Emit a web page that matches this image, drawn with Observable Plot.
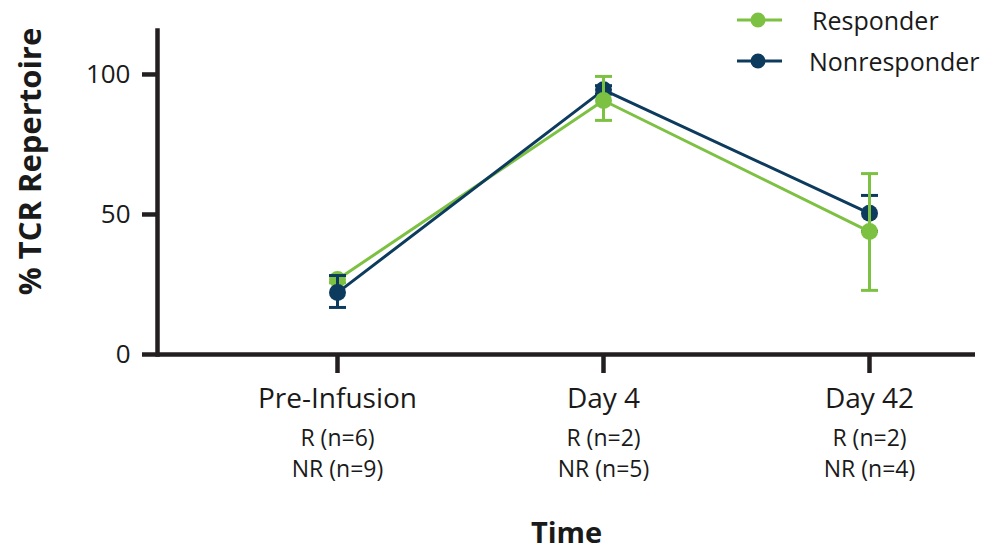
<!DOCTYPE html>
<html><head><meta charset="utf-8">
<script src="https://cdn.jsdelivr.net/npm/d3@7"></script>
<script src="https://cdn.jsdelivr.net/npm/@observablehq/plot@0.6"></script>
<style>
body{margin:0;background:#fff;font-family:"Open Sans",sans-serif;}
#wrap{position:relative;width:984px;height:550px;}
.leg{position:absolute;left:0;top:0;width:984px;height:80px;pointer-events:none;}
.leg-item{position:absolute;display:flex;align-items:center;}
.leg-item span{font-family:"Open Sans",sans-serif;font-size:25px;color:#1a1a1a;line-height:1;}
</style></head><body><div id="wrap"></div>
<script>
const categories = ["Pre-Infusion", "Day 4", "Day 42"];
const groupCounts = ["R (n=6)\nNR (n=9)", "R (n=2)\nNR (n=5)", "R (n=2)\nNR (n=4)"];
const seriesNames = ["Responder", "Nonresponder"];
const seriesColors = ["#7DC143", "#0D3B5E"];
const responderMean = [26.8, 90.7, 43.9];
const responderLow = [25.6, 83.6, 22.9];
const responderHigh = [28.0, 99.3, 64.6];
const nonresponderMean = [22.1, 94.5, 50.4];
const nonresponderLow = [16.8, 93.0, 44.0];
const nonresponderHigh = [28.2, 96.0, 56.8];
const yTicks = [0, 50, 100];
const yMax = 115.7;
// series drawn on top at each time point
const topSeries = ["Nonresponder", "Responder", "Responder"];

const axisColor = "#231F20";
const textColor = "#1a1a1a";

const rows = [];
categories.forEach((c, i) => {
  rows.push({time: c, series: "Responder", mean: responderMean[i], low: responderLow[i], high: responderHigh[i]});
  rows.push({time: c, series: "Nonresponder", mean: nonresponderMean[i], low: nonresponderLow[i], high: nonresponderHigh[i]});
});

const capSymbol = {
  draw(ctx, size) {
    const w = Math.sqrt(size / Math.PI);
    ctx.moveTo(-w, 0);
    ctx.lineTo(w, 0);
  }
};

const pointMarks = [];
categories.forEach((c, i) => {
  const order = topSeries[i] === "Responder" ? ["Nonresponder", "Responder"] : ["Responder", "Nonresponder"];
  order.forEach(s => {
    const d = rows.filter(r => r.time === c && r.series === s);
    pointMarks.push(
      Plot.ruleX(d, {x: "time", y1: "low", y2: "high", stroke: "series", strokeWidth: 3}),
      Plot.dot(d, {x: "time", y: "low", symbol: capSymbol, r: 8.5, fill: "none", stroke: "series", strokeWidth: 3}),
      Plot.dot(d, {x: "time", y: "high", symbol: capSymbol, r: 8.5, fill: "none", stroke: "series", strokeWidth: 3}),
      Plot.dot(d, {x: "time", y: "mean", r: 8.5, fill: "series", stroke: "none"})
    );
  });
});

const chart = Plot.plot({
  width: 984,
  height: 550,
  marginLeft: 157,
  marginRight: 9,
  marginTop: 30,
  marginBottom: 196,
  style: {fontFamily: "Open Sans, sans-serif", color: textColor, background: "white"},
  x: {type: "point", domain: categories, padding: 0.5347, align: 0.628},
  y: {domain: [0, yMax]},
  color: {domain: seriesNames, range: seriesColors},
  marks: [
    Plot.line(rows, {x: "time", y: "mean", z: "series", stroke: "series", strokeWidth: 3}),
    ...pointMarks,
    Plot.ruleY([0], {stroke: axisColor, strokeWidth: 4.5}),
    Plot.frame({anchor: "left", stroke: axisColor, strokeWidth: 4.5}),
    Plot.axisY(yTicks, {tickSize: 15, tickPadding: 12, fontSize: 26, stroke: axisColor, strokeWidth: 4.5, fill: textColor, label: null}),
    Plot.axisX({tickSize: 19, tickPadding: 15, fontSize: 28, stroke: axisColor, strokeWidth: 4.5, fill: textColor, label: null}),
    Plot.text(categories, {x: d => d, text: (d, i) => groupCounts[i], frameAnchor: "bottom", dy: 97, lineAnchor: "middle", lineHeight: 1.35, fontSize: 23, fill: textColor}),
    Plot.text(["Time"], {frameAnchor: "bottom", dy: 179, lineAnchor: "middle", fontSize: 29, fontWeight: "bold", fill: textColor}),
    Plot.text(["% TCR Repertoire"], {frameAnchor: "left", textAnchor: "middle", rotate: -90, dx: -126, dy: -31, fontSize: 31, fontWeight: "bold", fill: textColor})
  ]
});

const wrap = document.getElementById("wrap");
wrap.appendChild(chart);

// legend
const leg = document.createElement("div");
leg.className = "leg";
const legPos = [{y: 20, tx: 812}, {y: 61, tx: 809}];
seriesNames.forEach((name, i) => {
  const item = document.createElement("div");
  item.className = "leg-item";
  item.style.left = "735px";
  item.style.top = (legPos[i].y - 12) + "px";
  item.style.height = "24px";
  const ns = "http://www.w3.org/2000/svg";
  const svg = document.createElementNS(ns, "svg");
  svg.setAttribute("width", 50);
  svg.setAttribute("height", 24);
  const line = document.createElementNS(ns, "line");
  line.setAttribute("x1", 2); line.setAttribute("x2", 47);
  line.setAttribute("y1", 12); line.setAttribute("y2", 12);
  line.setAttribute("stroke", seriesColors[i]); line.setAttribute("stroke-width", 3);
  const c = document.createElementNS(ns, "circle");
  c.setAttribute("cx", 23); c.setAttribute("cy", 12); c.setAttribute("r", 7.5);
  c.setAttribute("fill", seriesColors[i]);
  svg.appendChild(line); svg.appendChild(c);
  const span = document.createElement("span");
  span.textContent = name;
  span.style.marginLeft = (legPos[i].tx - 735 - 50) + "px";
  item.appendChild(svg); item.appendChild(span);
  leg.appendChild(item);
});
wrap.appendChild(leg);
</script>
</body></html>
